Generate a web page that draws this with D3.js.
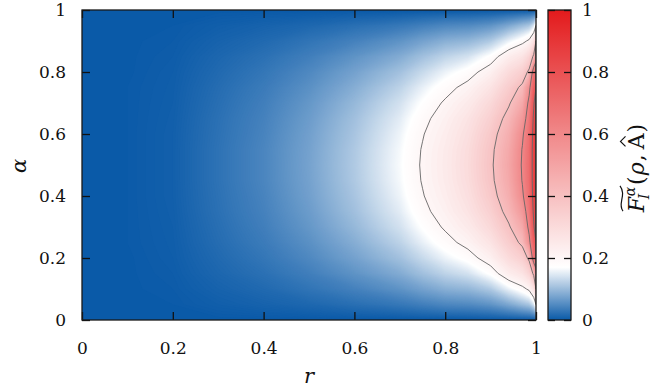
<!DOCTYPE html>
<html>
<head>
<meta charset="utf-8">
<script src="https://cdn.jsdelivr.net/npm/d3@7"></script>
<style>
  body { margin: 0; background: #fff; }
  svg { display: block; font-family: "DejaVu Serif", serif; }
</style>
</head>
<body>
<svg id="chart" width="666" height="392"></svg>
<script>
// grid: columns are r, rows are alpha (0 at bottom)
const rValues = [0, 0.1, 0.2, 0.3, 0.4, 0.5, 0.6, 0.7, 0.75, 0.8, 0.85, 0.9, 0.94, 0.97, 0.985, 0.995, 1];
const alphaValues = [0, 0.05, 0.1, 0.15, 0.2, 0.25, 0.3, 0.35, 0.4, 0.45, 0.5,
                     0.55, 0.6, 0.65, 0.7, 0.75, 0.8, 0.85, 0.9, 0.95, 1];
const fValues = [
  [0, 0, 0, 0, 0, 0, 0, 0, 0, 0, 0, 0, 0, 0, 0, 0, 0],
  [0, 0.0005, 0.001, 0.005, 0.009, 0.014, 0.022, 0.031, 0.039, 0.047, 0.05, 0.06, 0.08, 0.1, 0.11, 0.14, 0.2],
  [0, 0.0005, 0.002, 0.009, 0.016, 0.027, 0.041, 0.059, 0.074, 0.088, 0.095, 0.115, 0.155, 0.185, 0.21, 0.27, 0.4],
  [0, 0.0005, 0.003, 0.013, 0.023, 0.038, 0.059, 0.084, 0.105, 0.125, 0.14, 0.175, 0.235, 0.27, 0.32, 0.42, 0.55],
  [0, 0.0005, 0.004, 0.016, 0.029, 0.048, 0.074, 0.106, 0.131, 0.157, 0.18, 0.225, 0.3, 0.345, 0.42, 0.68, 0.7],
  [0, 0.001, 0.0045, 0.019, 0.034, 0.056, 0.086, 0.124, 0.154, 0.184, 0.215, 0.27, 0.35, 0.42, 0.57, 0.74, 0.8],
  [0, 0.001, 0.005, 0.021, 0.038, 0.063, 0.097, 0.139, 0.172, 0.206, 0.245, 0.31, 0.39, 0.48, 0.63, 0.79, 0.85],
  [0, 0.001, 0.0055, 0.023, 0.041, 0.068, 0.105, 0.15, 0.187, 0.223, 0.27, 0.34, 0.43, 0.54, 0.66, 0.82, 0.88],
  [0, 0.001, 0.006, 0.024, 0.043, 0.072, 0.11, 0.158, 0.197, 0.235, 0.285, 0.365, 0.46, 0.585, 0.685, 0.84, 0.9],
  [0, 0.001, 0.006, 0.025, 0.045, 0.074, 0.114, 0.163, 0.203, 0.243, 0.296, 0.38, 0.48, 0.605, 0.695, 0.85, 0.9],
  [0, 0.001, 0.006, 0.025, 0.045, 0.075, 0.115, 0.165, 0.205, 0.245, 0.3, 0.385, 0.49, 0.61, 0.7, 0.85, 0.9],
  [0, 0.001, 0.006, 0.025, 0.045, 0.074, 0.114, 0.163, 0.203, 0.243, 0.296, 0.38, 0.48, 0.605, 0.695, 0.85, 0.9],
  [0, 0.001, 0.006, 0.024, 0.043, 0.072, 0.11, 0.158, 0.197, 0.235, 0.285, 0.365, 0.46, 0.585, 0.685, 0.84, 0.9],
  [0, 0.001, 0.0055, 0.023, 0.041, 0.068, 0.105, 0.15, 0.187, 0.223, 0.27, 0.34, 0.43, 0.54, 0.66, 0.82, 0.88],
  [0, 0.001, 0.005, 0.021, 0.038, 0.063, 0.097, 0.139, 0.172, 0.206, 0.245, 0.31, 0.39, 0.48, 0.63, 0.79, 0.85],
  [0, 0.001, 0.0045, 0.019, 0.034, 0.056, 0.086, 0.124, 0.154, 0.184, 0.215, 0.27, 0.35, 0.42, 0.57, 0.74, 0.8],
  [0, 0.0005, 0.004, 0.016, 0.029, 0.048, 0.074, 0.106, 0.131, 0.157, 0.18, 0.225, 0.3, 0.345, 0.42, 0.68, 0.7],
  [0, 0.0005, 0.003, 0.013, 0.023, 0.038, 0.059, 0.084, 0.105, 0.125, 0.14, 0.175, 0.235, 0.27, 0.32, 0.42, 0.55],
  [0, 0.0005, 0.002, 0.009, 0.016, 0.027, 0.041, 0.059, 0.074, 0.088, 0.095, 0.115, 0.155, 0.185, 0.21, 0.27, 0.4],
  [0, 0.0005, 0.001, 0.005, 0.009, 0.014, 0.022, 0.031, 0.039, 0.047, 0.05, 0.06, 0.08, 0.1, 0.11, 0.14, 0.2],
  [0, 0, 0, 0, 0, 0, 0, 0, 0, 0, 0, 0, 0, 0, 0, 0, 0]
];
const xTicks = [0, 0.2, 0.4, 0.6, 0.8, 1];
const yTicks = [0, 0.2, 0.4, 0.6, 0.8, 1];
const cbTicks = [0, 0.2, 0.4, 0.6, 0.8, 1];
const contourLevels = [0.2, 0.4, 0.6, 0.8];
const colorDomain = [0, 0.17, 1];
const colorRange = ["#0a5aa8", "#ffffff", "#e31a1c"];

const svg = d3.select("#chart");
const plot = { left: 82, right: 536, top: 10, bottom: 320 };
const bar = { left: 548, right: 571 };

const x = d3.scaleLinear().domain([0, 1]).range([plot.left, plot.right]);
const y = d3.scaleLinear().domain([0, 1]).range([plot.bottom, plot.top]);
const color = d3.scaleLinear().domain(colorDomain).range(colorRange).clamp(true);

// contour grid coords -> data coords (grid is not evenly spaced in r)
const nx = rValues.length, ny = alphaValues.length;
const gx = d3.scaleLinear().domain(d3.range(nx)).range(rValues).clamp(true);
const gy = d3.scaleLinear().domain(d3.range(ny)).range(alphaValues).clamp(true);
const proj = d3.geoTransform({
  point(px, py) { this.stream.point(x(gx(px - 0.5)), y(gy(py - 0.5))); }
});
const path = d3.geoPath(proj);
const flat = fValues.flat();

svg.append("clipPath").attr("id", "clip")
  .append("rect")
  .attr("x", plot.left).attr("y", plot.top)
  .attr("width", plot.right - plot.left).attr("height", plot.bottom - plot.top);

const heat = svg.append("g").attr("clip-path", "url(#clip)");
heat.append("rect")
  .attr("x", plot.left).attr("y", plot.top)
  .attr("width", plot.right - plot.left).attr("height", plot.bottom - plot.top)
  .attr("fill", color(0));

// fine filled bands so the map looks smooth
const fillLevels = d3.range(1, 200).map(i => i * 0.001).concat(d3.range(20, 100).map(i => i / 100));
const bands = d3.contours().size([nx, ny]).thresholds(fillLevels)(flat);
heat.selectAll("path.band")
  .data(bands)
  .enter().append("path")
  .attr("class", "band")
  .attr("d", path)
  .attr("fill", (d, i) => {
    const next = i + 1 < fillLevels.length ? fillLevels[i + 1] : 1;
    return color((d.value + next) / 2);
  })
  .attr("stroke", "none");

const lines = d3.contours().size([nx, ny]).thresholds(contourLevels)(flat);
heat.selectAll("path.line")
  .data(lines)
  .enter().append("path")
  .attr("class", "line")
  .attr("d", path)
  .attr("fill", "none")
  .attr("stroke", "#666")
  .attr("stroke-width", 0.9);

// axes with inward ticks
function styleAxis(g) {
  g.select(".domain").remove();
  g.selectAll(".tick line").attr("stroke", "#111").attr("stroke-width", 1.3);
  g.selectAll(".tick text").attr("font-size", 17).attr("fill", "#111")
    .attr("font-family", "DejaVu Serif, serif");
}
const fmt = d => d3.format("~g")(d);

svg.append("g").attr("transform", `translate(0,${plot.bottom})`)
  .call(d3.axisBottom(x).tickValues(xTicks).tickSize(-8).tickPadding(22).tickFormat(fmt))
  .call(styleAxis);
svg.append("g").attr("transform", `translate(0,${plot.top})`)
  .call(d3.axisTop(x).tickValues(xTicks).tickSize(-8).tickFormat(""))
  .call(styleAxis);
svg.append("g").attr("transform", `translate(${plot.left},0)`)
  .call(d3.axisLeft(y).tickValues(yTicks).tickSize(-8).tickPadding(16).tickFormat(fmt))
  .call(styleAxis);
svg.append("g").attr("transform", `translate(${plot.right},0)`)
  .call(d3.axisRight(y).tickValues(yTicks).tickSize(-8).tickFormat(""))
  .call(styleAxis);

svg.append("rect")
  .attr("x", plot.left).attr("y", plot.top)
  .attr("width", plot.right - plot.left).attr("height", plot.bottom - plot.top)
  .attr("fill", "none").attr("stroke", "#1a1a1a").attr("stroke-width", 1.3);

// colour bar
const grad = svg.append("defs").append("linearGradient")
  .attr("id", "cbar").attr("x1", 0).attr("y1", 1).attr("x2", 0).attr("y2", 0);
grad.selectAll("stop")
  .data(d3.range(0, 101).map(i => i / 100))
  .enter().append("stop")
  .attr("offset", d => d)
  .attr("stop-color", d => color(d));

svg.append("rect")
  .attr("x", bar.left).attr("y", plot.top)
  .attr("width", bar.right - bar.left).attr("height", plot.bottom - plot.top)
  .attr("fill", "url(#cbar)");

svg.append("g").attr("transform", `translate(${bar.left},0)`)
  .call(d3.axisLeft(y).tickValues(cbTicks).tickSize(-7).tickFormat(""))
  .call(styleAxis);
svg.append("g").attr("transform", `translate(${bar.right},0)`)
  .call(d3.axisRight(y).tickValues(cbTicks).tickSize(-7).tickPadding(11).tickFormat(fmt))
  .call(styleAxis);

svg.append("rect")
  .attr("x", bar.left).attr("y", plot.top)
  .attr("width", bar.right - bar.left).attr("height", plot.bottom - plot.top)
  .attr("fill", "none").attr("stroke", "#1a1a1a").attr("stroke-width", 1.3);

// axis titles
svg.append("text")
  .attr("x", (plot.left + plot.right) / 2).attr("y", 383)
  .attr("text-anchor", "middle").attr("font-size", 21).attr("font-style", "italic")
  .attr("fill", "#111").text("r");

svg.append("text")
  .attr("transform", "translate(26,166) rotate(-90)")
  .attr("text-anchor", "middle").attr("font-size", 21).attr("font-style", "italic")
  .attr("fill", "#111").text("α");

// colour bar title: ~F_I^α(ρ, Â)
function measure(s, size, italic) {
  const t = svg.append("text").attr("font-size", size)
    .attr("font-style", italic ? "italic" : "normal").text(s);
  const w = t.node().getComputedTextLength();
  t.remove();
  return w;
}
const big = 22, small = 14;
const lab = svg.append("g").attr("transform", "translate(644,168) rotate(-90)");
const inner = lab.append("g");
const put = (s, px, py, size, italic) => inner.append("text")
  .attr("x", px).attr("y", py).attr("font-size", size)
  .attr("font-style", italic ? "italic" : "normal").attr("fill", "#111").text(s);

let cx = 0;
const wF = measure("F", big, true);
put("F", cx, 0, big, true);
const wa = measure("α", small, true), wi = measure("I", small, true);
put("α", cx + wF + 0.5, -9, small, true);
put("I", cx + wF - 2.5, 5, small, true);
cx += wF + Math.max(wa + 0.5, wi - 2.5) + 2;
const tildeEnd = cx - 1;
put("(", cx, 0, big, false); cx += measure("(", big, false) + 1;
put("ρ", cx, 0, big, true); cx += measure("ρ", big, true) + 1;
put(",", cx, 0, big, false); cx += measure(",", big, false) + 5;
const wA = measure("A", big, false);
put("A", cx, 0, big, false);
const hatX = cx + wA / 2;
cx += wA + 1;
put(")", cx, 0, big, false); cx += measure(")", big, false);

inner.append("path")
  .attr("d", `M1,-21 C${tildeEnd * 0.3},-27 ${tildeEnd * 0.65},-17 ${tildeEnd},-24`)
  .attr("fill", "none").attr("stroke", "#111").attr("stroke-width", 1.2);
inner.append("path")
  .attr("d", `M${hatX - 5},-18.5 L${hatX},-23.5 L${hatX + 5},-18.5`)
  .attr("fill", "none").attr("stroke", "#111").attr("stroke-width", 1.2);
inner.attr("transform", `translate(${-cx / 2},0)`);
</script>
</body>
</html>
